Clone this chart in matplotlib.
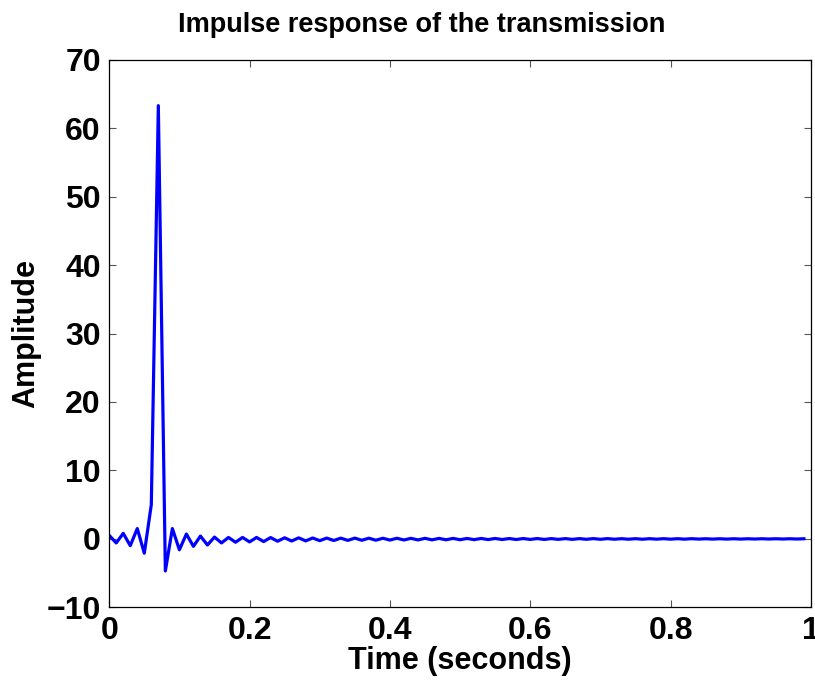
import numpy as np
import matplotlib
matplotlib.use('Agg')
import matplotlib.pyplot as plt

# impulse response samples, dt = 0.01 s
t = np.arange(100) * 0.01
amp = [0.5, -0.6, 0.8, -1.0, 1.5, -2.1, 5.0, 63.3, -4.7, 1.5,
       -1.6, 0.7, -1.1, 0.4, -0.9, 0.25, -0.6, 0.2, -0.5, 0.2,
       -0.45, 0.2, -0.4, 0.18, -0.35, 0.15, -0.32, 0.14, -0.3, 0.12,
       -0.27, 0.11, -0.25, 0.1, -0.23, 0.1, -0.21, 0.09, -0.2, 0.08,
       -0.18, 0.08, -0.17, 0.07, -0.16, 0.07, -0.15, 0.06, -0.14, 0.06,
       -0.13, 0.05, -0.12, 0.05, -0.11, 0.05, -0.1, 0.04, -0.1, 0.04,
       -0.09, 0.04, -0.09, 0.03, -0.08, 0.03, -0.08, 0.03, -0.07, 0.03,
       -0.07, 0.03, -0.06, 0.02, -0.06, 0.02, -0.06, 0.02, -0.05, 0.02,
       -0.05, 0.02, -0.05, 0.02, -0.04, 0.01, -0.04, 0.01, -0.04, 0.01,
       -0.04, 0.01, -0.03, 0.01, -0.03, 0.01, -0.03, 0.01, -0.03, 0.01]

xticks = [0, 0.2, 0.4, 0.6, 0.8, 1]
xticklabels = ['0', '0.2', '0.4', '0.6', '0.8', '1']
yticks = [-10, 0, 10, 20, 30, 40, 50, 60, 70]

plt.rcParams['font.family'] = ['Liberation Sans', 'DejaVu Sans']
plt.rcParams['font.weight'] = 'bold'

fig = plt.figure(figsize=(8.15, 6.8), dpi=100)
ax = fig.add_axes([0.134, 0.107, 0.861, 0.805])

ax.plot(t, amp, color=(0, 0, 1), linewidth=2.3)

ax.set_xlim(0, 1)
ax.set_ylim(-10, 70)
ax.set_xticks(xticks)
ax.set_xticklabels(xticklabels)
ax.set_yticks(yticks)
ax.tick_params(direction='in', length=5, width=0.8, color='#555555',
               top=True, right=True, labelsize=23)
ax.tick_params(axis='x', pad=6)
ax.tick_params(axis='y', pad=6)
for lab in ax.get_xticklabels() + ax.get_yticklabels():
    lab.set_fontweight('bold')
for s in ax.spines.values():
    s.set_linewidth(0.9)

ax.set_xlabel('Time (seconds)', fontsize=22, fontweight='bold', labelpad=0)
ax.set_ylabel('Amplitude', fontsize=22, fontweight='bold', labelpad=4)
ax.set_title('Impulse response of the transmission', fontsize=19.5,
             fontweight='bold', x=0.446, pad=20)

plt.savefig('out.png', dpi=100)
